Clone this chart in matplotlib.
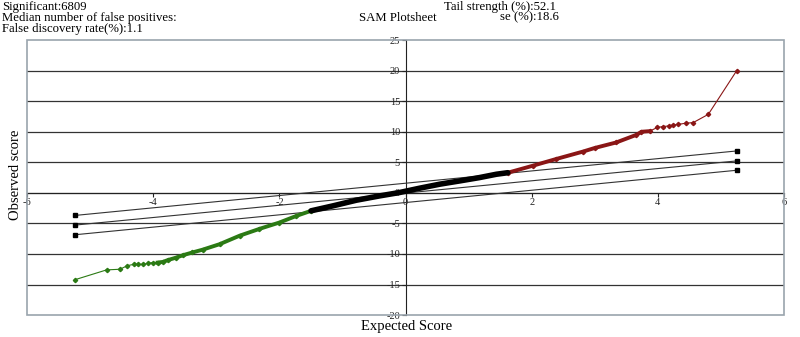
import matplotlib
matplotlib.use("Agg")
import matplotlib.pyplot as plt
from matplotlib.patches import Rectangle

green_x = [-5.24, -4.74, -4.53, -4.41, -4.31, -4.24, -4.16, -4.09, -4.01, -3.93, -3.85,
           -3.77, -3.64, -3.53, -3.38, -3.22, -2.95, -2.63, -2.32, -2.00, -1.73, -1.50]
green_y = [-14.2, -12.6, -12.5, -11.9, -11.7, -11.7, -11.7, -11.55, -11.4, -11.4, -11.3,
           -11.0, -10.6, -10.2, -9.75, -9.3, -8.4, -7.0, -5.9, -4.85, -3.76, -2.94]
black_x = [-1.50, -1.15, -0.78, -0.41, -0.10, 0.22, 0.54, 0.86, 1.17, 1.44, 1.62]
black_y = [-2.94, -2.12, -1.20, -0.49, 0.05, 0.76, 1.42, 1.96, 2.50, 3.05, 3.30]
red_x = [1.62, 2.02, 2.39, 2.81, 3.00, 3.34, 3.66, 3.74, 3.87, 3.99, 4.08, 4.17, 4.24,
         4.32, 4.44, 4.56, 4.80, 5.25]
red_y = [3.30, 4.45, 5.55, 6.75, 7.35, 8.25, 9.5, 10.0, 10.1, 10.7, 10.85, 10.95, 11.1,
         11.2, 11.4, 11.5, 12.85, 20.0]

# cutoff lines (start, end)
cut_x = [-5.25, 5.25]
cut_upper = [-3.70, 6.86]
cut_mid = [-5.28, 5.23]
cut_lower = [-6.86, 3.70]

x_ticks = [-6, -4, -2, 0, 2, 4, 6]
y_ticks = [-20, -15, -10, -5, 0, 5, 10, 15, 20, 25]

GREEN = "#2b7a14"
RED = "#8a1616"
SERIF = "Liberation Serif"
plt.rcParams["axes.unicode_minus"] = False

fig = plt.figure(figsize=(8, 3.37), dpi=100)
ax = fig.add_axes([0.034, 0.065, 0.946, 0.816])
ax.set_xlim(-6, 6)
ax.set_ylim(-20, 25)

for yv in y_ticks[1:-1]:
    ax.axhline(yv, color="#333333", lw=0.9, zorder=1)
ax.add_patch(Rectangle((0, 0), 1, 1, transform=ax.transAxes, fill=False,
                       edgecolor="#9aa4ad", lw=1.2, zorder=5, clip_on=False))

for s in ("top", "right"):
    ax.spines[s].set_visible(False)
ax.spines["left"].set_position(("data", 0))
ax.spines["bottom"].set_position(("data", 0))
ax.spines["left"].set_color("#222222")
ax.spines["bottom"].set_color("#222222")
ax.set_xticks(x_ticks)
ax.set_yticks(y_ticks)
ax.tick_params(direction="out", length=3, width=0.8, colors="#222222",
               labelsize=7.5, pad=1)
for lab in ax.get_xticklabels() + ax.get_yticklabels():
    lab.set_family(SERIF)

for ys in (cut_upper, cut_mid, cut_lower):
    ax.plot(cut_x, ys, color="#333333", lw=0.8, marker="s", ms=3.5,
            mfc="black", mec="black", zorder=3)

ax.plot(green_x, green_y, color=GREEN, lw=0.8, marker="D", ms=2.2, zorder=4)
ax.plot(green_x[9:], green_y[9:], color=GREEN, lw=2.8, zorder=4)
ax.plot(red_x, red_y, color=RED, lw=0.8, marker="D", ms=2.2, zorder=4)
ax.plot(red_x[:9], red_y[:9], color=RED, lw=2.8, zorder=4)
ax.plot(black_x, black_y, color="black", lw=4, solid_capstyle="round", zorder=4)

fs = 9.2
fig.text(0.003, 0.980, "Significant:6809", family=SERIF, fontsize=fs, va="center")
fig.text(0.003, 0.948, "Median number of false positives:", family=SERIF, fontsize=fs, va="center")
fig.text(0.003, 0.914, "False discovery rate(%):1.1", family=SERIF, fontsize=fs, va="center")
fig.text(0.497, 0.948, "SAM Plotsheet", family=SERIF, fontsize=fs, va="center", ha="center")
fig.text(0.695, 0.980, "Tail strength (%):52.1", family=SERIF, fontsize=fs, va="center", ha="right")
fig.text(0.698, 0.948, "se (%):18.6", family=SERIF, fontsize=fs, va="center", ha="right")

fig.text(0.019, 0.48, "Observed score", family=SERIF, fontsize=10.5, rotation=90,
         va="center", ha="center")
fig.text(0.508, 0.030, "Expected Score", family=SERIF, fontsize=10.5, va="center", ha="center")

fig.savefig("out.png", dpi=100)
